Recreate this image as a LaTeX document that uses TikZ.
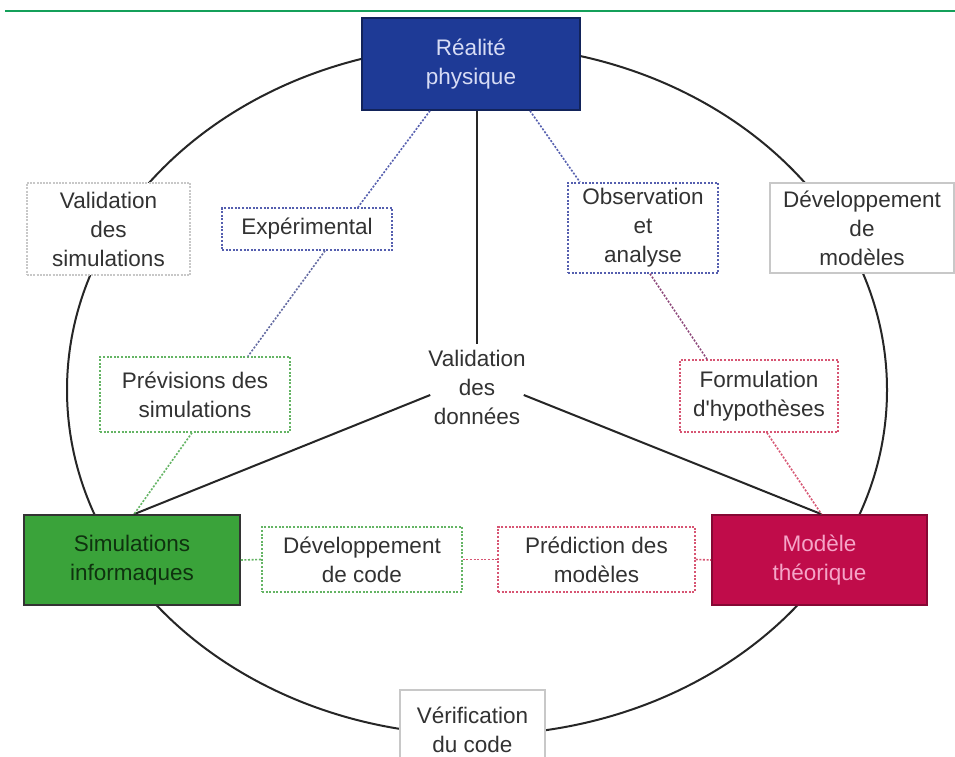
\documentclass[tikz,border=0pt]{standalone}
\usepackage{fontspec}
\setmainfont{Liberation Sans}
\usetikzlibrary{calc}
\definecolor{topgreen}{RGB}{20,160,90}
\definecolor{realblue}{RGB}{30,58,150}
\definecolor{realtext}{RGB}{215,220,245}
\definecolor{simgreen}{RGB}{58,163,58}
\definecolor{simtext}{RGB}{15,50,15}
\definecolor{modred}{RGB}{192,12,74}
\definecolor{modtext}{RGB}{245,165,200}
\definecolor{txt}{RGB}{50,50,50}
\definecolor{dotblue}{RGB}{85,95,175}
\definecolor{dotgreen}{RGB}{100,180,100}
\definecolor{dotred}{RGB}{215,85,115}
\definecolor{dotpurple}{RGB}{140,70,120}
\definecolor{lightbox}{RGB}{200,200,200}
\tikzset{
  lbl/.style={font=\fontsize{22.5}{29}\selectfont, text=txt, align=center, inner sep=0pt},
  mainbox/.style={lbl, line width=1.6pt, anchor=center},
  dotbox/.style={lbl, fill=white, line width=1.5pt, dash pattern=on 2pt off 1.6pt, anchor=center},
  greybox/.style={lbl, fill=white, draw=lightbox, line width=1.2pt, anchor=center},
  dotlink/.style={line width=1.6pt, dash pattern=on 2pt off 1.6pt},
  solidlink/.style={line width=2pt, black!85}
}
\begin{document}
\begin{tikzpicture}[x=1pt,y=-1pt]
\useasboundingbox[fill=white] (0,0) rectangle (955,757);
% header rule
\draw[topgreen, line width=2.4pt] (5,11) -- (955,11);
% outer cycle
\draw[solidlink] (477,390) ellipse [x radius=410pt, y radius=345pt];

% corner boxes
\node[mainbox, fill=realblue, draw=realblue!60!black, text=realtext,
      minimum width=218pt, minimum height=92pt] (real) at (471,64) {Réalité\\physique};
\node[mainbox, fill=simgreen, draw=black!80, text=simtext,
      minimum width=216pt, minimum height=90pt] (sim) at (132,560) {Simulations\\informaques};
\node[mainbox, fill=modred, draw=modred!70!black, text=modtext,
      minimum width=215pt, minimum height=90pt] (mod) at (819.5,560) {Modèle\\théorique};

% labels on the outer cycle
\node[greybox, dash pattern=on 2pt off 1.2pt, minimum width=163pt, minimum height=92pt] (valsim) at (108.5,229) {Validation\\des\\simulations};
\node[greybox, minimum width=184pt, minimum height=90pt] (devmod) at (862,228) {Développement\\de\\modèles};
\node[greybox, minimum width=145pt, minimum height=80pt] (verif) at (472.5,730) {Vérification\\du code};

% inner labels
\node[lbl] (valdon) at (477,387) {Validation\\des\\données};
\node[dotbox, draw=dotblue, minimum width=170pt, minimum height=42pt] (exp) at (307,229) {Expérimental};
\node[dotbox, draw=dotblue, minimum width=150pt, minimum height=90pt] (obs) at (643,228) {Observation\\et\\analyse};
\node[dotbox, draw=dotgreen, minimum width=190pt, minimum height=75pt] (prev) at (195,394.5) {Prévisions des\\simulations};
\node[dotbox, draw=dotred, minimum width=158pt, minimum height=72pt] (form) at (759,396) {Formulation\\d\textquotesingle hypothèses};
\node[dotbox, draw=dotgreen, minimum width=200pt, minimum height=65pt] (devcode) at (362,559.5) {Développement\\de code};
\node[dotbox, draw=dotred, minimum width=197pt, minimum height=65pt] (pred) at (596.5,559.5) {Prédiction des\\modèles};

% solid links through the centre
\draw[solidlink] (real.south -| valdon.north) -- ($(valdon.north)+(0,-6)$);
\draw[solidlink] ($(valdon.west)+(2,8)$) -- ($(sim.north)+(2,0)$);
\draw[solidlink] ($(valdon.east)+(-2,8)$) -- ($(mod.north)+(2,0)$);

% dotted chains
\draw[dotlink, dotblue] ($(real.south)+(-41,0)$) -- ($(exp.north)+(51,0)$);
\draw[dotlink, dotblue!70!gray] ($(exp.south)+(18,0)$) -- ($(prev.north)+(53,0)$);
\draw[dotlink, dotgreen] ($(prev.south)+(-3,0)$) -- ($(sim.north)+(2,0)$);
\draw[dotlink, dotblue] ($(real.south)+(59,0)$) -- ($(obs.north)+(-63,0)$);
\draw[dotlink, dotpurple] ($(obs.south)+(7,0)$) -- ($(form.north)+(-52,0)$);
\draw[dotlink, dotred] ($(form.south)+(8,0)$) -- ($(mod.north)+(2,0)$);
\draw[dotlink, dotgreen] (sim.east) -- (devcode.west);
\draw[dotlink, dotred] (devcode.east) -- (pred.west);
\draw[dotlink, dotred] (pred.east) -- (mod.west);
\end{tikzpicture}
\end{document}
